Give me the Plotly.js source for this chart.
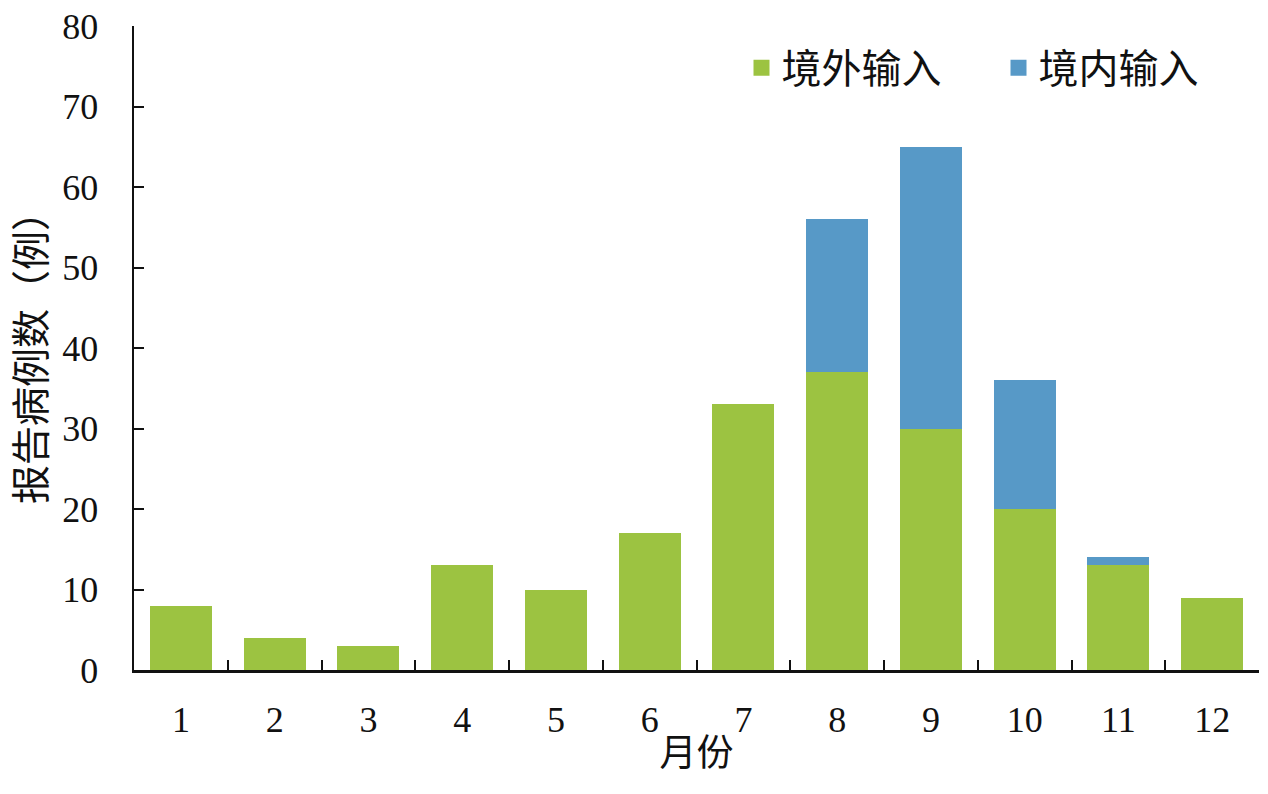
<!DOCTYPE html>
<html><head><meta charset="utf-8">
<script src="https://cdn.plot.ly/plotly-3.0.1.min.js"></script>
<style>html,body{margin:0;padding:0;background:#fff}#chart{width:1268px;height:794px}</style>
</head><body><div id="chart"></div>
<script>
const months = ['1','2','3','4','5','6','7','8','9','10','11','12'];
const imported = [8,4,3,13,10,17,33,37,30,20,13,9];
const domestic = [0,0,0,0,0,0,0,19,35,16,1,0];
const seriesNames = ['境外输入','境内输入'];
const seriesColors = ['#9CC341','#5799C7'];
const xTitle = '月份';
const yTitle = '报告病例数（例）';

const serif = 'Liberation Serif, Times New Roman, serif';
const cjk = 'Noto Sans CJK SC, sans-serif';

const traces = [
  {type:'bar', x:months, y:imported, name:seriesNames[0], marker:{color:seriesColors[0]}, width:0.66, showlegend:false},
  {type:'bar', x:months, y:domestic, name:seriesNames[1], marker:{color:seriesColors[1]}, width:0.66, showlegend:false},
  {type:'scatter', mode:'markers', x:[null], y:[null], name:seriesNames[0], marker:{symbol:'square', size:18, color:seriesColors[0]}},
  {type:'scatter', mode:'markers', x:[null], y:[null], name:seriesNames[1], marker:{symbol:'square', size:18, color:seriesColors[1]}}
];
const layout = {
  width:1268, height:794,
  margin:{l:134, r:9, t:26, b:124},
  barmode:'stack',
  paper_bgcolor:'#fff', plot_bgcolor:'#fff',
  showlegend:true,
  legend:{orientation:'h', traceorder:'normal', x:0.54, y:0.935, xanchor:'left', yanchor:'middle',
    font:{family:cjk, size:40, color:'#111'}, entrywidth:212, entrywidthmode:'pixels', bgcolor:'rgba(0,0,0,0)'},
  xaxis:{type:'category', showline:true, linecolor:'#111', linewidth:2.5,
    ticks:'inside', tickson:'boundaries', ticklen:10, tickwidth:2, tickcolor:'#111',
    showgrid:false, zeroline:false,
    tickfont:{family:serif, size:36, color:'#111'}, ticklabelstandoff:16,
    title:{text:xTitle, font:{family:cjk, size:37, color:'#111'}, standoff:2}},
  yaxis:{range:[0,80], dtick:10, showline:true, linecolor:'#111', linewidth:2.5,
    ticks:'inside', ticklen:10, tickwidth:2, tickcolor:'#111',
    showgrid:false, zeroline:false,
    tickfont:{family:serif, size:36, color:'#111'}, ticklabelstandoff:26,
    title:{text:yTitle, font:{family:cjk, size:39, color:'#111'}, standoff:14}}
};
Plotly.newPlot('chart', traces, layout, {displayModeBar:false, staticPlot:true});
</script></body></html>
